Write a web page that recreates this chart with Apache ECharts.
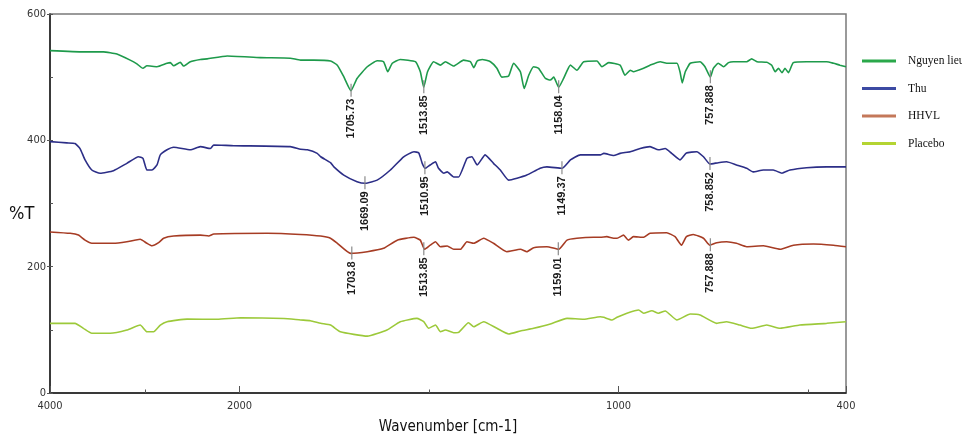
<!DOCTYPE html>
<html>
<head>
<meta charset="utf-8">
<script src="https://cdn.jsdelivr.net/npm/echarts@6/dist/echarts.min.js"></script>
<style>html,body{margin:0;padding:0;background:#fff}#c{width:962px;height:434px}</style>
</head>
<body>
<div id="c"></div>
<script>
// ---- data (wavenumber cm-1, %T offset values) ----
const seriesNames = ['Nguyen lieu', 'Thu', 'HHVL', 'Placebo'];

const wnNguyen = [4000,3648,3436,3294,3154,3083,3019,2977,2871,2765,2730,2695,2625,2590,2519,2413,2342,2130,1945,1866,1839,1804,1760,1742,1725,1706,1690,1663,1637,1620,1609,1597,1576,1536,1523,1514,1504,1488,1470,1457,1435,1409,1391,1382,1373,1360,1338,1321,1308,1290,1277,1259,1249,1237,1224,1211,1193,1180,1171,1158,1145,1127,1110,1092,1057,1044,1026,996,983,969,961,934,917,890,873,846,838,832,824,811,785,772,758,750,737,723,710,697,662,649,635,609,596,587,578,569,561,552,539,504,451,433,416,400];
const valNguyen = [542,540,540,536.6,527,521,514,518,516.5,522,523,518,523.5,517.6,524.5,528,529,533.5,531,530,527,527,525.6,519,500.7,478.5,498,516.5,526,524.5,508.6,522,528,524.5,508.6,484,508.6,524.5,519,524.5,517.6,527,524.5,515,525.6,528,524.5,514,500,502,522,508.6,482,503,516.5,514,498,495.5,500,484,498,519,511,524.5,525.6,516.5,523,519,503,511,508.6,514,519,524.5,522,522,508.6,491,508.6,522,524.5,516.5,500,514,522,516.5,523,524.5,524.5,529,524.5,523.5,519,508.6,514,507,514,507,523,524.5,524.5,522,519,516.5];

const wnThu = [4000,3823,3736,3683,3630,3559,3471,3330,3189,3066,3019,2977,2924,2871,2836,2765,2695,2519,2413,2307,2272,2061,1866,1839,1821,1795,1786,1760,1751,1725,1690,1668,1637,1602,1567,1540,1527,1518,1510,1497,1483,1475,1461,1452,1435,1422,1400,1387,1373,1352,1330,1312,1290,1268,1242,1207,1189,1149,1127,1101,1066,1048,1039,1013,996,969,943,917,895,877,860,838,821,794,776,759,737,715,689,662,645,618,592,569,548,504,451,400];
const valThu = [398,396,395,387,369,353,348,352,363.6,374,371.5,353,353,361,377,385,389,385,390,387,392.6,391.5,390,385.8,385,379.4,374,364.6,358,345,334.5,332,337,353,374,382,380,363.6,355.7,361,366,355.7,348,350,342,342,371.5,374,361,377,363.6,353,337,340,345,355.7,358,355.7,369,377,377,377,379.4,376,379.4,382,387,390,385,387,379.4,369,380,382,374,362.5,364.6,366,361,355.7,350,353,353,348,353,356.7,358,358];

const wnHHVL = [4000,3788,3700,3630,3559,3330,3189,3048,2977,2924,2854,2801,2695,2413,2325,2272,1927,1839,1786,1760,1742,1707,1663,1620,1584,1540,1523,1512,1497,1483,1470,1452,1435,1417,1400,1382,1356,1330,1295,1259,1242,1224,1189,1158,1136,1110,1066,1048,1031,1013,1004,987,974,961,934,917,873,851,834,821,803,776,759,741,715,689,662,618,574,539,486,433,400];
const valHHVL = [255,252.8,250,242,237,237,239.5,243.3,237,233,238,245,248.5,250,248.5,251.7,252.8,251,248.5,245,237,221,223.7,229,242,246.5,242,227.5,234,239.5,231.5,232.7,227.5,227.5,239.5,237,245,237,223.7,227.5,223.7,230,231.6,227.5,242,245,246.5,246.5,247.5,245,245,250,242,247.5,246.5,252.8,253.7,247.5,234,247.5,251,245,234,238,239.5,237,231.6,233,227.5,234,236,234,231.6];

const wnPlacebo = [4000,3736,3648,3559,3365,3189,3048,2977,2907,2836,2765,2554,2236,1997,1883,1839,1813,1786,1760,1734,1663,1611,1576,1532,1514,1501,1483,1470,1457,1435,1422,1396,1382,1356,1321,1290,1259,1224,1180,1136,1092,1048,1039,1017,1004,978,947,934,912,895,877,846,811,785,741,715,680,649,609,574,522,451,400];
const valPlacebo = [110.3,110.3,102.4,94.5,94.5,99.7,107.6,97,97,107.6,112.9,117,116.7,119.2,118,115.6,114.5,110.3,107.6,97,90,99.7,112.9,118.2,112.9,102.4,107.6,97,99.7,95.5,96,111.3,105,112.9,102.4,93.4,98.2,102.4,109.2,118.2,116.7,120.8,119.8,115.6,119.8,126.2,131.4,126.2,130.3,126.2,129.8,115.6,125,123.5,110.3,112.9,107.6,102.4,107.6,102.4,107.6,110.3,112.9];

// peak annotations
const annotWn    = [1705.73, 1513.85, 1158.04, 757.888, 1669.09, 1510.95, 1149.37, 758.852, 1703.8, 1513.85, 1159.01, 757.888];
const annotVal   = [478.5, 484, 484, 500, 332, 355.7, 355.7, 362.5, 221, 227.5, 227.5, 234];
const annotLabel = ['1705.73','1513.85','1158.04','757.888','1669.09','1510.95','1149.37','758.852','1703.8','1513.85','1159.01','757.888'];

// axis ticks (wavenumbers)
const xMajorTicks = [4000, 2000, 1000, 400];
const xMinorTicks = [3000, 1500, 500];

// ---- piecewise wavenumber scale (range above 2000 compressed 4x) ----
const fwd = wn => wn <= 2000 ? wn : 2000 + (wn - 2000) / 4;
const inv = t => t <= 2000 ? t : 2000 + (t - 2000) * 4;

const colors = ['#1e9a4b', '#2c2e87', '#a63c24', '#9cc93a'];
const legendColors = ['#2aa84a', '#3c4aa3', '#c4785a', '#b4d432'];
const wnArr = [wnNguyen, wnThu, wnHHVL, wnPlacebo];
const valArr = [valNguyen, valThu, valHHVL, valPlacebo];

const narrow = "'Liberation Sans Narrow', 'DejaVu Sans Condensed', 'Liberation Sans', sans-serif";

const lineSeries = seriesNames.map((n, i) => ({
  name: n,
  type: 'line',
  data: wnArr[i].map((w, k) => [fwd(w), valArr[i][k]]),
  showSymbol: false,
  symbol: 'none',
  smooth: 0.15,
  lineStyle: { color: colors[i], width: 1.6 },
  itemStyle: { color: legendColors[i] },
  z: 3
}));

const annotSeries = {
  type: 'custom',
  data: annotWn.map((w, k) => [fwd(w), annotVal[k]]),
  z: 5,
  silent: true,
  renderItem: function (params, api) {
    const p = api.coord([api.value(0), api.value(1)]);
    return {
      type: 'group',
      children: [
        { type: 'line', shape: { x1: p[0], y1: p[1] - 7, x2: p[0], y2: p[1] + 6 },
          style: { stroke: '#8a8a8a', lineWidth: 1.2 } },
        { type: 'text', x: p[0], y: p[1] + 8, rotation: Math.PI / 2,
          style: { text: annotLabel[params.dataIndex], align: 'right', verticalAlign: 'middle',
                   font: "bold 11px 'Liberation Sans', Arial, sans-serif", fill: '#1a1a1a' } }
      ]
    };
  }
};

const chart = echarts.init(document.getElementById('c'), null, { renderer: 'canvas' });
chart.setOption({
  animation: false,
  backgroundColor: '#fff',
  grid: { left: 50, right: 116, top: 14, bottom: 41, containLabel: false, outerBoundsMode: 'none',
          show: true, borderColor: '#7a7a7a', borderWidth: 1.5, backgroundColor: 'transparent' },
  legend: {
    orient: 'vertical', left: 862, top: 54, padding: 0,
    itemWidth: 34, itemHeight: 3, itemGap: 13.5, icon: 'rect',
    data: seriesNames.map((n, i) => ({ name: n, itemStyle: { color: legendColors[i] } })),
    textStyle: { fontFamily: "'Liberation Serif', 'Times New Roman', serif", fontSize: 11.5, color: '#111', lineHeight: 14, padding: [0, 0, 0, 7] }
  },
  xAxis: [{
    type: 'value', min: fwd(400), max: fwd(4000), inverse: true,
    name: 'Wavenumber [cm-1]', nameLocation: 'middle', nameGap: 27,
    nameTextStyle: { fontFamily: narrow, fontSize: 15, color: '#111' },
    axisLine: { lineStyle: { color: '#1a1a1a', width: 1.5 } },
    axisTick: { show: true, inside: true, length: 7, customValues: xMajorTicks.map(fwd), lineStyle: { color: '#555' } },
    axisLabel: { customValues: xMajorTicks.map(fwd), formatter: v => String(Math.round(inv(v))), fontFamily: narrow, fontSize: 11, color: '#333', margin: 8, showMinLabel: true, showMaxLabel: true },
    splitLine: { show: false }
  }, {
    type: 'value', min: fwd(400), max: fwd(4000), inverse: true, position: 'bottom',
    axisLine: { show: false },
    axisTick: { show: true, inside: true, length: 3.5, customValues: xMinorTicks.map(fwd), lineStyle: { color: '#555' } },
    axisLabel: { show: false },
    splitLine: { show: false }
  }],
  yAxis: [{
    type: 'value', min: 0, max: 600, interval: 200,
    axisLine: { show: true, lineStyle: { color: '#1a1a1a', width: 1.5 } },
    axisTick: { show: true, inside: false, length: 3, lineStyle: { color: '#555' } },
    axisLabel: { fontFamily: narrow, fontSize: 11, color: '#333', margin: 4 },
    splitLine: { show: false }
  }, {
    type: 'value', min: 0, max: 600, interval: 100, position: 'left',
    axisLine: { show: false },
    axisTick: { show: true, inside: true, length: 3, lineStyle: { color: '#555' } },
    axisLabel: { show: false },
    splitLine: { show: false }
  }],
  graphic: [{
    type: 'text', left: 9, top: 205,
    style: { text: '%T', font: "18px " + narrow, fill: '#111' }
  }],
  series: lineSeries.concat([annotSeries])
});
</script>
</body>
</html>
